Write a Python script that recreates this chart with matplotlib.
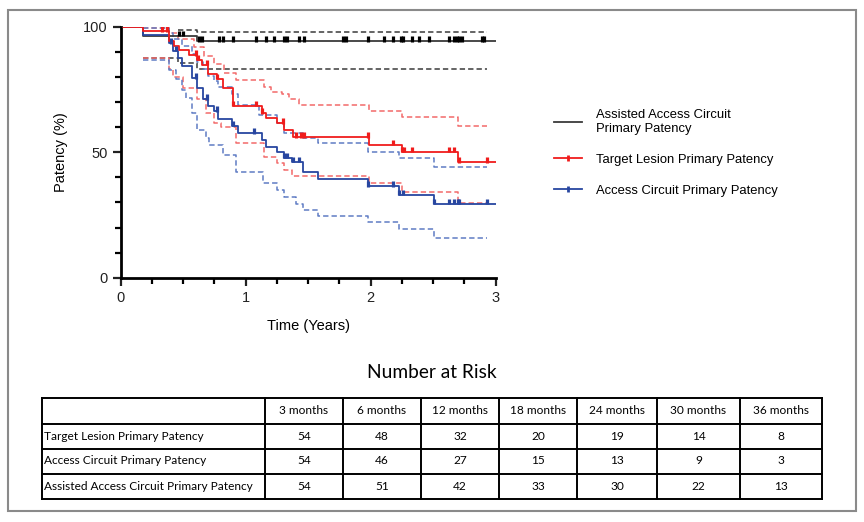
import numpy as np
import matplotlib.pyplot as plt
from matplotlib.lines import Line2D
from matplotlib.patches import Rectangle

plt.rcParams['font.family'] = ['Liberation Sans', 'DejaVu Sans']

# Kaplan-Meier curves: time (years) where the estimate changes, value (%) after that change
red_t = [0, 0.18, 0.39, 0.43, 0.47, 0.55, 0.61, 0.65, 0.70, 0.77, 0.82, 0.90, 1.13, 1.16, 1.25, 1.31, 1.38, 1.99, 2.25, 2.70]
red_v = [100, 98.1, 94.3, 92.5, 90.6, 88.7, 86.8, 84.9, 81.1, 79.2, 75.5, 68.5, 65.5, 63.5, 61.5, 59.0, 56.0, 53.0, 50.2, 45.9]
red_up_t = [0.18, 0.39, 0.46, 0.59, 0.67, 0.75, 0.83, 0.92, 1.15, 1.20, 1.29, 1.35, 1.43, 1.99, 2.25, 2.70]
red_up_v = [99.5, 97.5, 95.0, 92.0, 88.5, 85.0, 81.5, 78.8, 76.0, 74.0, 73.0, 71.0, 68.8, 66.5, 63.9, 60.4]
red_lo_t = [0.18, 0.39, 0.42, 0.50, 0.61, 0.68, 0.75, 0.80, 0.92, 1.15, 1.25, 1.31, 1.37, 1.99, 2.25, 2.70]
red_lo_v = [87.5, 83.0, 80.0, 75.6, 71.0, 65.5, 61.5, 60.0, 53.5, 48.2, 45.5, 43.0, 40.6, 37.6, 34.3, 29.9]

blue_t = [0, 0.18, 0.39, 0.42, 0.46, 0.49, 0.57, 0.61, 0.66, 0.70, 0.75, 0.78, 0.89, 0.94, 1.13, 1.16, 1.25, 1.31, 1.37, 1.46, 1.58, 1.98, 2.23, 2.51]
blue_v = [100, 96.8, 93.5, 90.5, 87.5, 84.3, 79.5, 75.5, 71.0, 68.5, 66.3, 63.3, 60.5, 57.5, 54.9, 52.2, 50.2, 47.7, 46.2, 42.2, 39.2, 36.5, 33.0, 29.4]
blue_up_t = [0.18, 0.39, 0.42, 0.49, 0.57, 0.61, 0.66, 0.70, 0.75, 0.78, 0.89, 0.94, 1.11, 1.25, 1.31, 1.46, 1.58, 1.98, 2.23, 2.51]
blue_up_v = [99.3, 97.5, 95.0, 92.5, 89.0, 86.0, 83.0, 80.5, 78.5, 76.0, 73.0, 68.8, 64.8, 61.6, 57.6, 55.6, 53.5, 50.2, 47.6, 44.2]
blue_lo_t = [0.18, 0.39, 0.44, 0.49, 0.52, 0.57, 0.61, 0.68, 0.71, 0.82, 0.92, 1.14, 1.25, 1.31, 1.40, 1.46, 1.58, 1.98, 2.23, 2.51]
blue_lo_v = [86.7, 82.7, 79.0, 74.8, 71.6, 65.6, 58.8, 55.5, 52.9, 48.9, 42.2, 37.6, 35.0, 32.3, 29.5, 27.0, 24.6, 22.3, 19.3, 15.8]

black_t = [0, 0.18, 0.61]
black_v = [100, 96.3, 94.2]
black_up_t = [0.46, 0.61]
black_up_v = [98.7, 97.9]
black_lo_t = [0.18, 0.46, 0.61]
black_lo_v = [87.4, 85.5, 83.0]

# censored observations (years)
red_cens = [0.02, 0.13, 0.33, 0.37, 0.60, 0.62, 0.69, 0.77, 0.90, 1.08, 1.13, 1.30, 1.40, 1.44, 1.47,
            1.98, 2.18, 2.25, 2.27, 2.33, 2.63, 2.67, 2.71, 2.93]
blue_cens = [0.40, 0.44, 0.60, 0.69, 0.77, 0.90, 1.07, 1.31, 1.33, 1.38, 1.43, 1.98, 2.18, 2.23, 2.26,
             2.51, 2.63, 2.67, 2.70, 2.71, 2.93]
black_cens = [0.47, 0.50, 0.63, 0.65, 0.79, 0.82, 0.90, 1.08, 1.16, 1.23, 1.31, 1.33, 1.43, 1.47, 1.78,
              1.80, 1.98, 2.11, 2.18, 2.24, 2.26, 2.33, 2.39, 2.47, 2.63, 2.67, 2.69, 2.71, 2.73, 2.89, 2.91]

# number at risk table
risk_cols = ["3 months", "6 months", "12 months", "18 months", "24 months", "30 months", "36 months"]
risk_rows = ["Target Lesion Primary Patency", "Access Circuit Primary Patency",
             "Assisted Access Circuit Primary Patency"]
risk_target = [54, 48, 32, 20, 19, 14, 8]
risk_access = [54, 46, 27, 15, 13, 9, 3]
risk_assisted = [54, 51, 42, 33, 30, 22, 13]

RED, RED_L = '#f01c1c', '#f26a6a'
BLUE, BLUE_L = '#2846a0', '#5f7cc4'
BLACK = '#3a3a3a'


def stairs(ax, ts, vs, end, **kw):
    ax.step(list(ts) + [end], list(vs) + [vs[-1]], where='post', **kw)


def censor(ax, ts, vs, cens, color):
    ts = np.asarray(ts)
    vs = np.asarray(vs)
    idx = np.searchsorted(ts, cens, side='right') - 1
    y = vs[idx]
    ax.vlines(cens, y - 0.2, y + 2.0, color=color, lw=2.3, zorder=5)


fig = plt.figure(figsize=(8.64, 5.22), dpi=100)
ax = fig.add_axes([120.7 / 864, 1 - 277.7 / 522, 375 / 864, 251 / 522])

dash = (0, (3.5, 2.0))
stairs(ax, black_up_t, black_up_v, 2.93, color=BLACK, lw=1.1, linestyle=dash)
stairs(ax, black_lo_t, black_lo_v, 2.93, color=BLACK, lw=1.1, linestyle=dash)
stairs(ax, red_up_t, red_up_v, 2.93, color=RED_L, lw=1.1, linestyle=dash)
stairs(ax, red_lo_t, red_lo_v, 2.93, color=RED_L, lw=1.1, linestyle=dash)
stairs(ax, blue_up_t, blue_up_v, 2.93, color=BLUE_L, lw=1.1, linestyle=dash)
stairs(ax, blue_lo_t, blue_lo_v, 2.93, color=BLUE_L, lw=1.1, linestyle=dash)

stairs(ax, black_t, black_v, 3.0, color=BLACK, lw=1.3)
stairs(ax, blue_t, blue_v, 3.0, color=BLUE, lw=1.3)
stairs(ax, red_t, red_v, 3.0, color=RED, lw=1.3)
censor(ax, black_t, black_v, black_cens, 'black')
censor(ax, blue_t, blue_v, blue_cens, BLUE)
censor(ax, red_t, red_v, red_cens, RED)

ax.set_xlim(0, 3)
ax.set_ylim(0, 100)
ax.set_xticks([0, 1, 2, 3])
ax.set_xticks(np.arange(0, 3.01, 0.25), minor=True)
ax.set_yticks([0, 50, 100])
ax.set_yticks(np.arange(0, 101, 10), minor=True)
for s in ['top', 'right']:
    ax.spines[s].set_visible(False)
for s in ['left', 'bottom']:
    ax.spines[s].set_linewidth(2.0)
ax.tick_params(which='major', length=6, width=1.6, labelsize=10.5, colors='#222222')
ax.tick_params(which='minor', length=4, width=1.6)
ax.set_xlabel("Time (Years)", fontsize=10.5, labelpad=10)
ax.set_ylabel("Patency (%)", fontsize=10.5, labelpad=11)
ax.patch.set_alpha(0)

handles = [
    Line2D([], [], color=BLACK, lw=1.3),
    Line2D([], [], color=RED, lw=1.3, marker='|', markersize=4, markeredgewidth=2),
    Line2D([], [], color=BLUE, lw=1.3, marker='|', markersize=4, markeredgewidth=2),
]
labels = ["Assisted Access Circuit\nPrimary Patency", "Target Lesion Primary Patency",
          "Access Circuit Primary Patency"]
fig.legend(handles, labels, loc='upper left', bbox_to_anchor=(542 / 864, 1 - 97 / 522),
           frameon=False, fontsize=9.4, handlelength=2.2, handletextpad=1.0, labelspacing=1.45)

# table and frame drawn in figure-pixel coordinates
tax = fig.add_axes([0, 0, 1, 1])
tax.set_xlim(0, 864)
tax.set_ylim(522, 0)
tax.axis('off')
tax.patch.set_alpha(0)

tax.add_patch(Rectangle((8, 10), 848, 501, fill=False, ec='#8a8a8a', lw=1.5))

tfont = 'Lato'
tax.text(432, 373, "Number at Risk", ha='center', va='center', fontsize=13.8, family=tfont)

col_x = [42, 265, 343, 421, 499, 577, 657, 740, 822]
row_y = [398, 423.5, 448.5, 473.5, 498.5]
for x in col_x:
    tax.plot([x, x], [row_y[0], row_y[-1]], color='black', lw=1.4)
for y in row_y:
    tax.plot([col_x[0], col_x[-1]], [y, y], color='black', lw=1.4)

for j, c in enumerate(risk_cols):
    tax.text((col_x[j + 1] + col_x[j + 2]) / 2, (row_y[0] + row_y[1]) / 2, c,
             ha='center', va='center', fontsize=8.6, family=tfont)
for i, (name, vals) in enumerate(zip(risk_rows, [risk_target, risk_access, risk_assisted])):
    yc = (row_y[i + 1] + row_y[i + 2]) / 2
    tax.text(col_x[0] + 2, yc, name, ha='left', va='center', fontsize=8.6, family=tfont)
    for j, v in enumerate(vals):
        tax.text((col_x[j + 1] + col_x[j + 2]) / 2, yc, str(v), ha='center', va='center',
                 fontsize=8.6, family=tfont)

fig.savefig("out.png", dpi=100, facecolor='white')
